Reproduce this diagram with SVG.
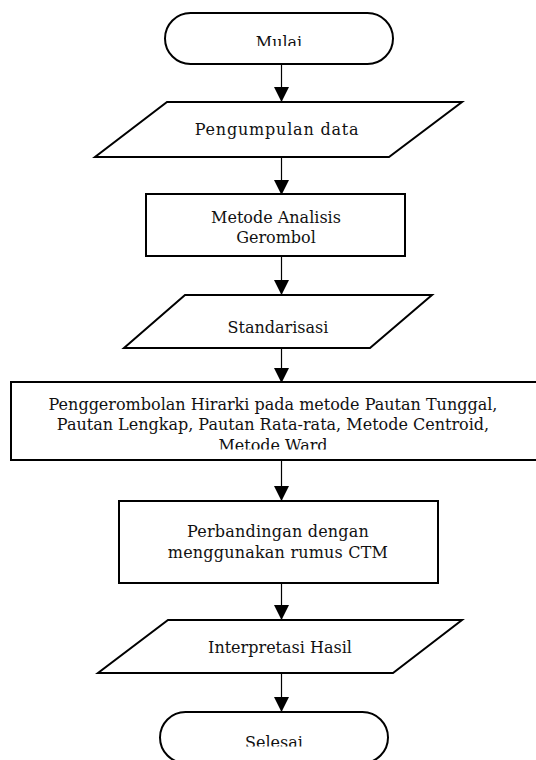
<svg xmlns="http://www.w3.org/2000/svg" width="536" height="760" viewBox="0 0 536 760">
<style>
.s{fill:#fff;stroke:#000;stroke-width:2}
.t{font-family:"DejaVu Serif","Liberation Serif",serif;font-size:16px;fill:#111;text-anchor:middle}
.c{stroke:#000;stroke-width:1.2;fill:none}
</style>
<defs>
<marker id="ah" markerWidth="15" markerHeight="15" refX="15" refY="7.5" orient="auto" markerUnits="userSpaceOnUse">
<path d="M0,0 L15,7.5 L0,15 Z" fill="#000"/>
</marker>
<clipPath id="c1"><rect x="0" y="0" width="536" height="46"/></clipPath>
<clipPath id="c2"><rect x="0" y="0" width="536" height="449.5"/></clipPath>
<clipPath id="c3"><rect x="0" y="0" width="536" height="746.5"/></clipPath>
</defs>
<rect width="536" height="760" fill="#fff"/>
<g id="connectors">
<line class="c" x1="281.5" y1="64" x2="281.5" y2="102" marker-end="url(#ah)"/>
<line class="c" x1="281.5" y1="157" x2="281.5" y2="195" marker-end="url(#ah)"/>
<line class="c" x1="281.5" y1="256" x2="281.5" y2="295" marker-end="url(#ah)"/>
<line class="c" x1="281.5" y1="348" x2="281.5" y2="383" marker-end="url(#ah)"/>
<line class="c" x1="281.5" y1="460" x2="281.5" y2="501" marker-end="url(#ah)"/>
<line class="c" x1="281.5" y1="583" x2="281.5" y2="620" marker-end="url(#ah)"/>
<line class="c" x1="281.5" y1="673" x2="281.5" y2="712" marker-end="url(#ah)"/>
</g>
<g id="mulai">
<rect class="s" x="165" y="13" width="228" height="51" rx="25.5" ry="25.5"/>
<text class="t" x="279" y="48" clip-path="url(#c1)">Mulai</text>
</g>
<g id="pengumpulan">
<polygon class="s" points="167,102 462,102 389,157 95,157"/>
<text class="t" x="277" y="135" letter-spacing="0.8">Pengumpulan data</text>
</g>
<g id="metode">
<rect class="s" x="146" y="194" width="259" height="62"/>
<text class="t" x="276" y="223">Metode Analisis</text>
<text class="t" x="276" y="243">Gerombol</text>
</g>
<g id="standarisasi">
<polygon class="s" points="185,295 432,295 370,348 124,348"/>
<text class="t" x="278" y="333">Standarisasi</text>
</g>
<g id="penggerombolan">
<rect class="s" x="11" y="382" width="530" height="78"/>
<text class="t" x="273" y="410">Penggerombolan Hirarki pada metode Pautan Tunggal,</text>
<text class="t" x="273" y="430">Pautan Lengkap, Pautan Rata-rata, Metode Centroid,</text>
<text class="t" x="273" y="451" clip-path="url(#c2)">Metode Ward</text>
</g>
<g id="perbandingan">
<rect class="s" x="119" y="501" width="319" height="82"/>
<text class="t" x="278" y="537" letter-spacing="0.2">Perbandingan dengan</text>
<text class="t" x="278" y="558" letter-spacing="0.2">menggunakan rumus CTM</text>
</g>
<g id="interpretasi">
<polygon class="s" points="168,620 462,620 393,673 98,673"/>
<text class="t" x="280" y="653">Interpretasi Hasil</text>
</g>
<g id="selesai">
<rect class="s" x="160" y="712" width="228" height="51" rx="25.5" ry="25.5"/>
<text class="t" x="274" y="748" clip-path="url(#c3)">Selesai</text>
</g>
</svg>
